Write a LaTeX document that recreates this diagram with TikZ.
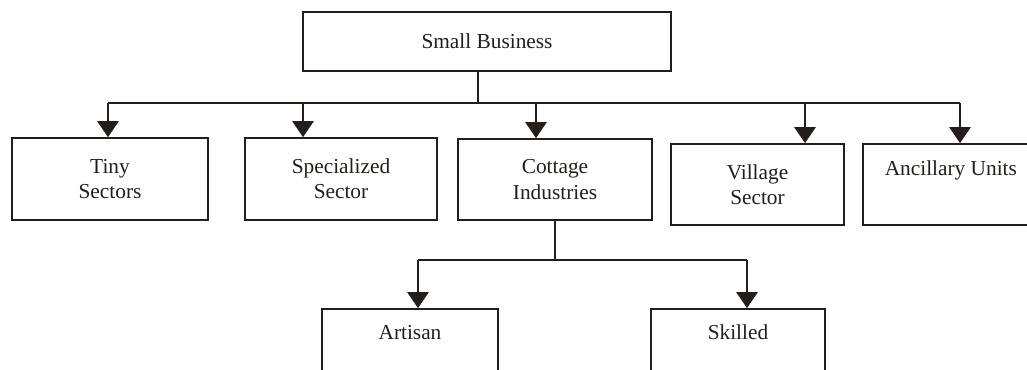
\documentclass[tikz,border=0pt]{standalone}
\usepackage{fontspec}
\setmainfont{Liberation Serif}
\usetikzlibrary{arrows.meta}
\tikzset{every picture/.style={line width=0.75pt}}
\definecolor{ink}{RGB}{35,30,25}

\begin{document}
\begin{tikzpicture}[x=0.75pt,y=0.75pt,yscale=-1,xscale=1,
	box/.style={draw=ink, line width=1.3pt, rectangle, inner sep=0pt, align=center, text=ink, font=\fontsize{16}{19}\selectfont},
	link/.style={draw=ink, line width=1.3pt},
	arr/.style={link, -{Triangle[length=12pt,width=16pt]}}]
		\clip (0,0) rectangle (1027,369);
		
		% Top box
		\node[box, minimum width=276pt, minimum height=44.25pt] (sb) at (487,41.5) {Small Business};
		
		% Second row
		\node[box, minimum width=147pt, minimum height=61.5pt] (tiny) at (110,179) {Tiny\\Sectors};
		\node[box, minimum width=144pt, minimum height=61.5pt] (spec) at (341,179) {Specialized\\Sector};
		\node[box, minimum width=145.5pt, minimum height=60.75pt] (cott) at (555,179.5) {Cottage\\Industries};
		\node[box, minimum width=129.75pt, minimum height=60.75pt] (vill) at (757.5,184.5) {Village\\Sector};
		\node[box, minimum width=142pt, minimum height=60.75pt] (anc) at (957.5,184.5) {Ancillary Units\hspace*{10pt}\\ \strut};
		
		% Third row
		\node[box, minimum width=132pt, minimum height=60pt] (art) at (410,349) {Artisan\\ \strut};
		\node[box, minimum width=130.5pt, minimum height=60pt] (skl) at (738,349) {Skilled\\ \strut};
		
		% Upper bus
		\coordinate (trunk) at (478,103);
		\coordinate (d1) at (108,103);
		\coordinate (d2) at (303,103);
		\coordinate (d3) at (536,103);
		\coordinate (d4) at (805,103);
		\coordinate (d5) at (960,103);
		\draw[link] (sb.south -| trunk) -- (trunk);
		\draw[link] (d1) -- (d5);
		\foreach \d/\n in {d1/tiny, d2/spec, d3/cott, d4/vill, d5/anc}
			\draw[arr] (\d) -- (\d |- \n.north);
		
		% Lower bus
		\coordinate (e1) at (418,260);
		\coordinate (e2) at (747,260);
		\draw[link] (cott.south) -- (cott.south |- e1);
		\draw[link] (e1) -- (e2);
		\foreach \e/\n in {e1/art, e2/skl}
			\draw[arr] (\e) -- (\e |- \n.north);
		
\end{tikzpicture}
\end{document}
